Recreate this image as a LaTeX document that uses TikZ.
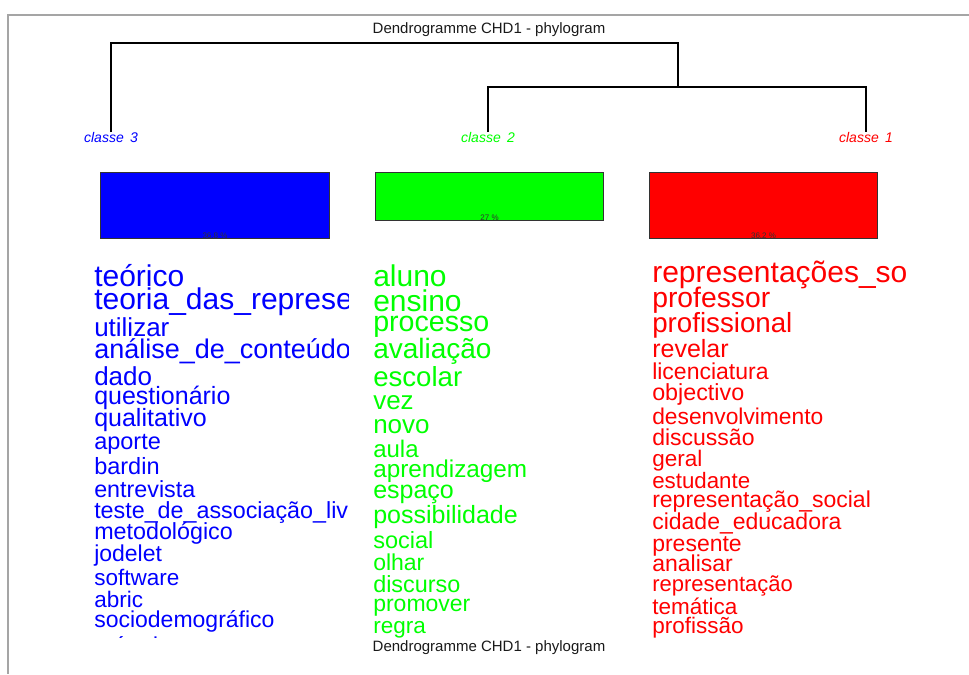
\documentclass[tikz,border=0pt]{standalone}
\usepackage{fontspec}
\setmainfont{Liberation Sans}
\newcommand{\pxf}[1]{\fontsize{\fpeval{#1*0.75}pt}{\fpeval{#1*0.9}pt}\selectfont}
\definecolor{framegray}{RGB}{165,165,165}
\definecolor{pure green}{RGB}{0,255,0}
\tikzset{
  wordb/.style={anchor=base west, inner sep=0pt, text=blue, font=\pxf{#1}},
  wordg/.style={anchor=base west, inner sep=0pt, text=pure green, font=\pxf{#1}},
  wordr/.style={anchor=base west, inner sep=0pt, text=red, font=\pxf{#1}},
  classlbl/.style={inner sep=0pt, anchor=north, font=\pxf{14}\itshape},
  classbox/.style={draw=black!80, line width=0.75pt, inner sep=0pt, minimum width=171.5pt},
  pct/.style={inner sep=0pt, anchor=south, font=\pxf{8}, text=black!80},
  title/.style={inner sep=0pt, font=\pxf{15}, text=black!90},
  tree/.style={line width=0.9pt, black}
}
\begin{document}
\begin{tikzpicture}[x=0.75pt,y=-0.75pt]
\useasboundingbox (0,0) rectangle (969,674);
% frame
\draw[framegray, line width=1.5pt] (969,15) -- (8,15) -- (8,674);
% titles
\node[title] (ttop) at (489,30) {Dendrogramme CHD1 - phylogram};
\node[title] (tbot) at (489,648) {Dendrogramme CHD1 - phylogram};
% class labels
\node[classlbl, text=blue] (c3) at (111,132) {classe\hspace{0.45em}3};
\node[classlbl, text=pure green] (c2) at (488,132) {classe\hspace{0.45em}2};
\node[classlbl, text=red] (c1) at (866,132) {classe\hspace{0.45em}1};
% dendrogram
\coordinate (j1) at (678,43);
\coordinate (j2) at (678,87);
\draw[tree] (c3.north) |- (j1) -- (j2);
\draw[tree] (c2.north) |- (j2) -| (c1.north);
% boxes
\node[classbox, fill=blue, minimum height=49.5pt] (b3) at (215,205) {};
\node[classbox, fill=pure green, minimum height=36pt] (b2) at (489.5,196) {};
\node[classbox, fill=red, minimum height=49.5pt] (b1) at (763.5,205) {};
\node[pct] (p3) at (b3.south) {36.8 \%};
\node[pct] (p2) at (b2.south) {27 \%};
\node[pct] (p1) at (b1.south) {36.2 \%};
% word lists
\begin{scope}
\clip (85,250) rectangle (348,637);
\foreach \t/\y/\s [count=\i] in {
 teórico/284/30, teoria\_das\_representações/307/30, utilizar/334/26,
 análise\_de\_conteúdo/356/27, dado/383/26, questionário/402/25,
 qualitativo/424/25, aporte/447/23.5, bardin/472/23.5, entrevista/495/23.3,
 teste\_de\_associação\_livre/516/23.3, metodológico/537/23.3, jodelet/559/23,
 software/583/22.5, abric/605/22.5, sociodemográfico/625/23, método/651/23}
 \node[wordb=\s] (bw\i) at (94,\y+2) {\t};
\end{scope}
\begin{scope}
\clip (365,250) rectangle (631,637);
\foreach \t/\y/\s [count=\i] in {
 aluno/284/30, ensino/309/30, processo/329/28.6, avaliação/356/28,
 escolar/384/27.6, vez/407/26, novo/431/26, aula/455/24,
 aprendizagem/475/24.3, espaço/496/25, possibilidade/521/25, social/546/23.5,
 olhar/568/23, discurso/590/23.4, promover/609/23, regra/631/22.5}
 \node[wordg=\s] (gw\i) at (373,\y+2) {\t};
\end{scope}
\begin{scope}
\clip (645,250) rectangle (906,637);
\foreach \t/\y/\s [count=\i] in {
 representações\_sociais/280/30, professor/305/28.3, profissional/330/27.7,
 revelar/355/25, licenciatura/377/23, objectivo/398/23.3,
 desenvolvimento/422/22.8, discussão/443/23, geral/464/22.5,
 estudante/486/22.3, representação\_social/505/23, cidade\_educadora/527/23,
 presente/549/23, analisar/569/23, representação/589/22, temática/612/22.5,
 profissão/631/22.5}
 \node[wordr=\s] (rw\i) at (652,\y+2) {\t};
\end{scope}
\end{tikzpicture}
\end{document}
